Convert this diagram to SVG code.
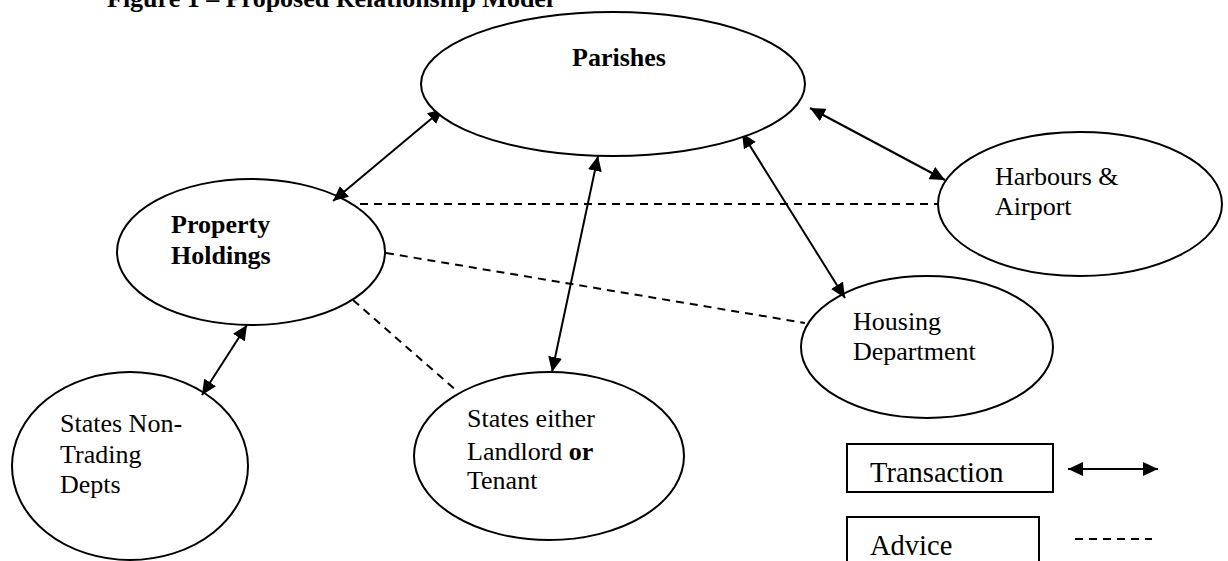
<svg xmlns="http://www.w3.org/2000/svg" width="1228" height="561" viewBox="0 0 1228 561">
<style>
.node{fill:#fff;stroke:#000;stroke-width:2}
.t{font-family:"Liberation Serif","Times New Roman",serif;font-size:26px;fill:#000}
.b{font-weight:bold}
.tx{stroke:#000;stroke-width:2;fill:none;marker-start:url(#ah);marker-end:url(#ah)}
.adv{stroke:#000;stroke-width:2;fill:none;stroke-dasharray:8 6}
.box{fill:#fff;stroke:#000;stroke-width:2}
</style>
<defs>
<marker id="ah" markerUnits="userSpaceOnUse" markerWidth="16" markerHeight="14" viewBox="0 0 16 14" refX="15" refY="7" orient="auto-start-reverse">
<path d="M0,0 L15,7 L0,14 z" fill="#000"/>
</marker>
</defs>
<rect width="1228" height="561" fill="#fff"/>
<text class="t b" x="107" y="7">Figure 1 – Proposed Relationship Model</text>

<g id="connectors">
<line class="adv" x1="360" y1="204" x2="938" y2="204"/>
<line class="adv" x1="386" y1="253" x2="805" y2="323"/>
<line class="adv" x1="353" y1="300" x2="458" y2="392"/>
<line class="tx" x1="333" y1="201" x2="443" y2="109"/>
<line class="tx" x1="598" y1="156" x2="552" y2="372"/>
<line class="tx" x1="742" y1="133" x2="845" y2="298"/>
<line class="tx" x1="810" y1="108" x2="945" y2="180"/>
<line class="tx" x1="247" y1="325" x2="202" y2="395"/>
</g>

<g id="parishes">
<ellipse class="node" cx="613" cy="84" rx="192" ry="72" fill="none"/>
<text class="t b" x="572" y="66">Parishes</text>
</g>
<g id="property-holdings">
<ellipse class="node" cx="251" cy="252" rx="134" ry="73" style="fill:none"/>
<text class="t b" x="171" y="233">Property</text>
<text class="t b" x="171" y="264">Holdings</text>
</g>
<g id="harbours-airport">
<ellipse class="node" cx="1080" cy="204" rx="142" ry="72" style="fill:none"/>
<text class="t" x="995" y="185">Harbours &amp;</text>
<text class="t" x="995" y="215">Airport</text>
</g>
<g id="housing-department">
<ellipse class="node" cx="927" cy="347" rx="126" ry="71" style="fill:none"/>
<text class="t" x="853" y="330">Housing</text>
<text class="t" x="853" y="360">Department</text>
</g>
<g id="states-non-trading">
<ellipse class="node" cx="130" cy="466" rx="118" ry="94" style="fill:none"/>
<text class="t" x="60" y="432">States Non-</text>
<text class="t" x="60" y="463">Trading</text>
<text class="t" x="60" y="493">Depts</text>
</g>
<g id="states-landlord-tenant">
<ellipse class="node" cx="549" cy="456" rx="135" ry="84" style="fill:none"/>
<text class="t" x="467" y="427">States either</text>
<text class="t" x="467" y="460">Landlord <tspan class="b">or</tspan></text>
<text class="t" x="467" y="489">Tenant</text>
</g>

<g id="legend">
<rect class="box" x="847" y="444" width="206" height="48"/>
<text class="t" x="870" y="482" style="font-size:28.5px">Transaction</text>
<line class="tx" x1="1068" y1="469" x2="1158" y2="469"/>
<rect class="box" x="847" y="517" width="192" height="60"/>
<text class="t" x="870" y="555" style="font-size:28.5px">Advice</text>
<line class="adv" x1="1075" y1="539" x2="1152" y2="539"/>
</g>
</svg>
